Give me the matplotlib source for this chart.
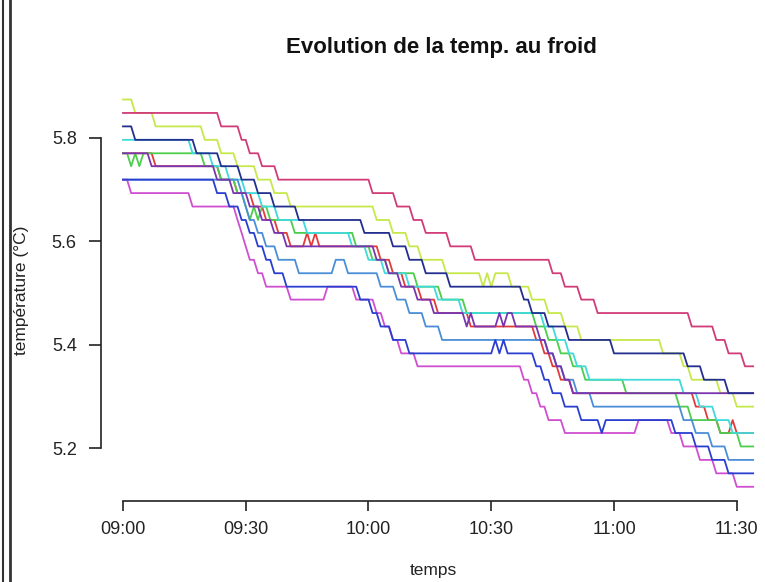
import numpy as np
import matplotlib
matplotlib.use("Agg")
import matplotlib.pyplot as plt
from matplotlib.lines import Line2D

# releves de temperature au froid, une mesure par minute depuis 09:00
# chaque serie : minutes ou la valeur change, et la valeur prise (degC)
rose_t = [0, 24, 29, 31, 34, 38, 61, 67, 71, 74, 80, 86, 105, 108, 112, 116, 139, 145, 148, 152]
rose_v = [5.848, 5.822, 5.796, 5.770, 5.745, 5.719, 5.693, 5.667, 5.641, 5.616, 5.590, 5.564,
          5.538, 5.512, 5.487, 5.461, 5.435, 5.409, 5.383, 5.358]

jaune_t = [0, 3, 8, 20, 24, 28, 33, 37, 41, 62, 66, 70, 73, 79, 88, 89, 90, 91, 95, 100, 104,
           108, 112, 132, 137, 139, 146, 150]
jaune_v = [5.874, 5.848, 5.822, 5.796, 5.770, 5.745, 5.719, 5.693, 5.667, 5.641, 5.616, 5.590,
           5.564, 5.538, 5.512, 5.538, 5.512, 5.538, 5.512, 5.487, 5.461, 5.435, 5.409, 5.383,
           5.358, 5.332, 5.306, 5.280]

marine_t = [0, 3, 18, 24, 29, 33, 37, 43, 59, 66, 70, 74, 80, 98, 100, 104, 109, 120, 138, 142, 148]
marine_v = [5.822, 5.796, 5.770, 5.745, 5.719, 5.693, 5.667, 5.641, 5.616, 5.590, 5.564, 5.538,
            5.512, 5.487, 5.461, 5.435, 5.409, 5.383, 5.358, 5.332, 5.306]

cyan_t = [0, 17, 22, 26, 30, 34, 38, 45, 56, 60, 64, 70, 77, 83, 103, 106, 109, 111, 114, 137,
          141, 145, 149]
cyan_v = [5.796, 5.770, 5.745, 5.719, 5.693, 5.667, 5.641, 5.616, 5.590, 5.564, 5.538, 5.512,
          5.487, 5.461, 5.435, 5.409, 5.383, 5.358, 5.332, 5.306, 5.280, 5.254, 5.229]

vert_t = [0, 2, 3, 4, 5, 20, 24, 28, 30, 31, 32, 33, 34, 36, 42, 57, 61, 65, 72, 78, 84, 101,
          104, 107, 110, 113, 123, 136, 139, 146, 151]
vert_v = [5.770, 5.745, 5.770, 5.745, 5.770, 5.745, 5.719, 5.693, 5.667, 5.641, 5.667, 5.641,
          5.667, 5.641, 5.616, 5.590, 5.564, 5.538, 5.512, 5.487, 5.461, 5.435, 5.409, 5.383,
          5.358, 5.332, 5.306, 5.280, 5.254, 5.229, 5.203]

violet_t = [0, 7, 23, 27, 31, 34, 37, 40, 62, 65, 68, 72, 76, 84, 85, 86, 92, 93, 94, 96, 102,
            104, 106, 108, 110]
violet_v = [5.770, 5.745, 5.719, 5.693, 5.667, 5.641, 5.616, 5.590, 5.564, 5.538, 5.512, 5.487,
            5.461, 5.435, 5.461, 5.435, 5.461, 5.435, 5.461, 5.435, 5.409, 5.383, 5.358, 5.332,
            5.306]

rouge_t = [0, 8, 24, 28, 32, 35, 38, 41, 45, 46, 47, 48, 63, 66, 69, 73, 77, 85, 101, 103, 105,
           107, 110, 140, 143, 146, 149, 150]
rouge_v = [5.770, 5.745, 5.719, 5.693, 5.667, 5.641, 5.616, 5.590, 5.616, 5.590, 5.616, 5.590,
           5.564, 5.538, 5.512, 5.487, 5.461, 5.435, 5.409, 5.383, 5.358, 5.332, 5.306, 5.280,
           5.254, 5.229, 5.254, 5.229]

ciel_t = [0, 29, 30, 31, 33, 35, 38, 43, 52, 55, 63, 67, 70, 74, 78, 104, 106, 108, 111, 115,
          137, 140, 144, 148]
ciel_v = [5.719, 5.693, 5.667, 5.641, 5.616, 5.590, 5.564, 5.538, 5.564, 5.538, 5.512, 5.487,
          5.461, 5.435, 5.409, 5.383, 5.358, 5.332, 5.306, 5.280, 5.254, 5.229, 5.203, 5.177]

bleu_t = [0, 23, 26, 29, 31, 33, 35, 37, 40, 58, 61, 63, 66, 70, 91, 92, 93, 94, 101, 103, 105,
          108, 112, 117, 118, 135, 140, 144, 148]
bleu_v = [5.719, 5.693, 5.667, 5.641, 5.616, 5.590, 5.564, 5.538, 5.512, 5.487, 5.461, 5.435,
          5.409, 5.383, 5.409, 5.383, 5.409, 5.383, 5.358, 5.332, 5.306, 5.280, 5.254, 5.229,
          5.254, 5.229, 5.203, 5.177, 5.151]

magenta_t = [0, 2, 17, 28, 29, 30, 31, 33, 35, 41, 50, 57, 62, 64, 66, 68, 72, 98, 100, 102,
             104, 108, 126, 134, 137, 141, 145, 150]
magenta_v = [5.719, 5.693, 5.667, 5.641, 5.616, 5.590, 5.564, 5.538, 5.512, 5.487, 5.512, 5.487,
             5.461, 5.435, 5.409, 5.383, 5.358, 5.332, 5.306, 5.280, 5.254, 5.229, 5.254, 5.229,
             5.203, 5.177, 5.151, 5.125]

tick_min = [0, 30, 60, 90, 120, 150]
tick_lab = ["09:00", "09:30", "10:00", "10:30", "11:00", "11:30"]
y_ticks = [5.2, 5.4, 5.6, 5.8]

# ordre de trace (le dernier est dessus)
series = [
    (rouge_t, rouge_v, "#e23a3a"),
    (vert_t, vert_v, "#4ccd4c"),
    (jaune_t, jaune_v, "#c6e84a"),
    (cyan_t, cyan_v, "#3fdada"),
    (ciel_t, ciel_v, "#4a8ed8"),
    (magenta_t, magenta_v, "#cf4fd0"),
    (violet_t, violet_v, "#7a34b0"),
    (bleu_t, bleu_v, "#2a3fd0"),
    (marine_t, marine_v, "#232f8e"),
    (rose_t, rose_v, "#d03c78"),
]

plt.rcParams['font.family'] = ['Liberation Sans', 'DejaVu Sans']

fig = plt.figure(figsize=(7.65, 5.82), dpi=100)
ax = fig.add_axes([101/765, 1 - 501/582, 664/765, (501 - 84)/582])

minutes = np.arange(0, 155)
for t, v, c in series:
    idx = np.searchsorted(t, minutes, side='right') - 1
    ax.plot(minutes, np.array(v)[idx], color=c, lw=1.3)

ax.set_xlim(-5.37, 156.9)
ax.set_ylim(5.0975, 5.904)

for s in ['top', 'right']:
    ax.spines[s].set_visible(False)
ax.spines['left'].set_bounds(5.2, 5.8)
ax.spines['bottom'].set_bounds(0, 150)
for s in ['left', 'bottom']:
    ax.spines[s].set_linewidth(1.2)
    ax.spines[s].set_color('#222222')

ax.set_xticks(tick_min)
ax.set_xticklabels(tick_lab)
ax.set_yticks(y_ticks)
ax.set_yticklabels([str(y) for y in y_ticks])
ax.tick_params(axis='x', direction='out', length=7.5, width=1.2, labelsize=13, pad=7,
               colors='#222222')
ax.tick_params(axis='y', direction='out', length=8.5, width=1.2, labelsize=13, pad=9,
               colors='#222222')

fig.text(441/765, 1 - 47/582, "Evolution de la temp. au froid", ha='center', va='center',
         fontsize=16, fontweight='bold', color='#111111')
fig.text(433/765, 1 - 570/582, "temps", ha='center', va='center', fontsize=12.5, color='#222222')
fig.text(22/765, 1 - 290/582, "température (°C)", ha='center', va='center', rotation=90,
         fontsize=12.5, color='#222222')

# double trait a gauche de la page
fig.add_artist(Line2D([3/765, 3/765], [0, 1], transform=fig.transFigure, color='#333333', lw=1.5))
fig.add_artist(Line2D([9.5/765, 9.5/765], [0, 1], transform=fig.transFigure, color='#333333', lw=2))

fig.savefig("out.png", dpi=100)
